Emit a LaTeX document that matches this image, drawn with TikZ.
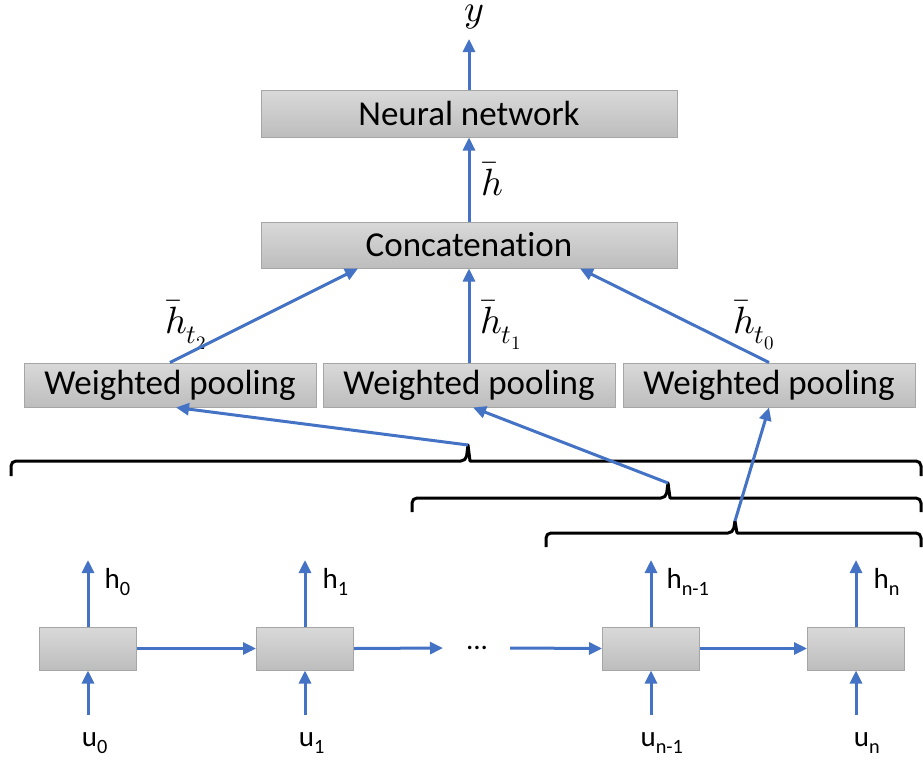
\documentclass[tikz,border=0pt]{standalone}
\usepackage{fontspec}
\usepackage{unicode-math}
\setmainfont{Carlito}[Ligatures=NoCommon]
\setmathfont{Latin Modern Math}
\usetikzlibrary{arrows.meta,calc}
\definecolor{flowblue}{HTML}{4472C4}
\definecolor{boxedge}{HTML}{A6A6A6}
\definecolor{boxtop}{HTML}{D9D9D9}
\definecolor{boxbot}{HTML}{BDBDBD}

\begin{document}
\begin{tikzpicture}[x=1pt,y=-1pt,
    flow/.style={draw=flowblue,line width=3pt,-{Triangle[length=13pt,width=12pt]}},
    bracket/.style={draw=black,line width=3pt,line join=round}]

      \useasboundingbox (0,0) rectangle (923,763);

      \begin{scope}[every node/.style={rectangle,draw=boxedge,line width=1pt,
          top color=boxtop,bottom color=boxbot,inner sep=0pt,
          font=\fontsize{35}{40}\selectfont}]
        \node[minimum width=416pt,minimum height=47pt] (nn)  at (469,113.5) {Neural network};
        \node[minimum width=416pt,minimum height=46pt] (cat) at (469,245)   {Concatenation};
        \node[minimum width=292pt,minimum height=44pt] (wp2) at (170,385)   {Weighted pooling};
        \node[minimum width=292pt,minimum height=44pt] (wp1) at (469,385)   {Weighted pooling};
        \node[minimum width=292pt,minimum height=44pt] (wp0) at (769,385)   {Weighted pooling};
        \node[minimum width=97pt,minimum height=43pt]  (c0)  at (88,648.5)  {};
        \node[minimum width=97pt,minimum height=43pt]  (c1)  at (305,648.5) {};
        \node[minimum width=97pt,minimum height=43pt]  (c2)  at (651,648.5) {};
        \node[minimum width=97pt,minimum height=43pt]  (c3)  at (856,648.5) {};
      \end{scope}

      % free ends of the connectors
      \coordinate (ytop) at (469,39);
      \coordinate (t2) at (468,445);
      \coordinate (t1) at (668,483);
      \coordinate (t0) at (735,521);
      \coordinate (c1out) at (443,648);
      \coordinate (c2in)  at (510,648);
      \coordinate (h0top) at (88,560);
      \coordinate (h1top) at (305,560);
      \coordinate (h2top) at (651,560);
      \coordinate (h3top) at (856,560);
      \coordinate (u0bot) at (88,715);
      \coordinate (u1bot) at (305,715);
      \coordinate (u2bot) at (651,715);
      \coordinate (u3bot) at (856,715);

      \begin{scope}[every node/.style={font=\fontsize{38}{44}\selectfont}]
        \node[anchor=north,inner sep=0pt] (y) at (474,5) {$y$};
        \node (hb) at (492,179) {$\bar{h}$};
        \node (l2) at (186,325) {$\bar{h}_{t_2}$};
        \node (l1) at (501,325) {$\bar{h}_{t_1}$};
        \node (l0) at (754,325) {$\bar{h}_{t_0}$};
      \end{scope}

      \begin{scope}[every node/.style={font=\fontsize{29}{32}\selectfont}]
        \node[anchor=base west] (h0) at (101,588) {h\textsubscript{0}};
        \node[anchor=base west] (h1) at (319,588) {h\textsubscript{1}};
        \node[anchor=base west] (h2) at (663,588) {h\textsubscript{n-1}};
        \node[anchor=base west] (h3) at (870,588) {h\textsubscript{n}};
        \node[anchor=base] (u0) at (95,746)  {u\textsubscript{0}};
        \node[anchor=base] (u1) at (312,746) {u\textsubscript{1}};
        \node[anchor=base] (u2) at (662,746) {u\textsubscript{n-1}};
        \node[anchor=base] (u3) at (867,746) {u\textsubscript{n}};
        \node (dots) at (477,648) {...};
      \end{scope}

      % brackets over the hidden states
      \draw[bracket] (11,476) [rounded corners=5pt] -- (11,461) -- (466,461)
        [sharp corners] -- (t2) -- (470,461) [rounded corners=5pt] -- (921,461) -- (921,476);
      \draw[bracket] (412,512) [rounded corners=5pt] -- (412,498) -- (666,498)
        [sharp corners] -- (t1) -- (670,498) [rounded corners=5pt] -- (921,498) -- (921,512);
      \draw[bracket] (546,547) [rounded corners=5pt] -- (546,533) -- (733,533)
        [sharp corners] -- (t0) -- (737,533) [rounded corners=5pt] -- (921,533) -- (921,547);

      \draw[flow] (nn.north) -- (ytop);
      \draw[flow] (cat.north) -- (nn.south);
      \draw[flow] (wp2.north) -- ($(cat.south)+(-111,0)$);
      \draw[flow] (wp1.north) -- (cat.south);
      \draw[flow] (wp0.north) -- ($(cat.south)+(111,0)$);
      \draw[flow] (t2) -- ($(wp2.south)+(6,0)$);
      \draw[flow] (t1) -- ($(wp1.south)+(4,0)$);
      \draw[flow] (t0) -- (wp0.south);

      \draw[flow] (c0.east) -- (c1.west);
      \draw[flow] (c1.east) -- (c1out);
      \draw[flow] (c2in) -- (c2.west);
      \draw[flow] (c2.east) -- (c3.west);
      \draw[flow] (c0.north) -- (h0top);
      \draw[flow] (c1.north) -- (h1top);
      \draw[flow] (c2.north) -- (h2top);
      \draw[flow] (c3.north) -- (h3top);
      \draw[flow] (u0bot) -- (c0.south);
      \draw[flow] (u1bot) -- (c1.south);
      \draw[flow] (u2bot) -- (c2.south);
      \draw[flow] (u3bot) -- (c3.south);

    \end{tikzpicture}
\end{document}
